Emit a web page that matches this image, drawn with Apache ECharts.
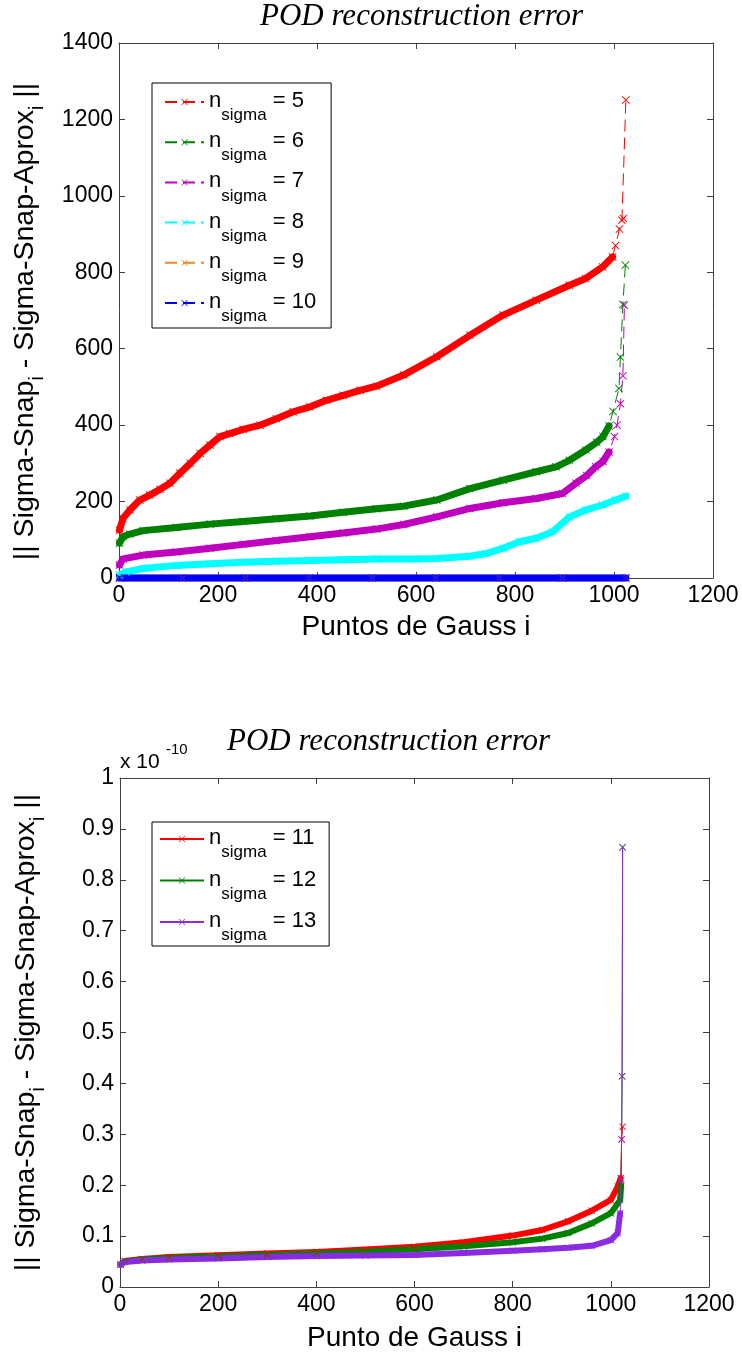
<!DOCTYPE html>
<html>
<head>
<meta charset="utf-8">
<title>POD reconstruction error</title>
<script src="https://cdn.jsdelivr.net/npm/echarts@6.0.0/dist/echarts.min.js"></script>
<style>
  html, body { margin: 0; padding: 0; background: #fff; }
  #chart { width: 742px; height: 1353px; }
</style>
</head>
<body>
<div id="chart"></div>
<script>
// top plot, n_sigma = 5..10
const x5 = [1, 8, 22, 42, 62, 83, 103, 123, 144, 164, 184, 204, 224, 251, 285, 318, 352, 386, 419, 453, 487, 520, 575, 642, 709, 776, 843, 910, 943, 977, 997, 1003, 1011, 1016, 1019, 1024];
const y5 = [125, 156, 178, 204, 217, 232, 248, 274, 300, 326, 348, 370, 378, 389, 400, 417, 435, 448, 465, 478, 491, 502, 531, 579, 635, 688, 727, 766, 784, 814, 840, 870, 913, 936, 941, 1251];
const x6 = [1, 8, 22, 49, 116, 184, 251, 318, 386, 453, 520, 575, 642, 709, 776, 843, 883, 910, 943, 965, 978, 990, 998, 1010, 1013, 1018, 1023];
const y6 = [91, 108, 115, 124, 132, 141, 148, 155, 162, 172, 181, 188, 204, 234, 256, 278, 291, 308, 335, 355, 370, 398, 436, 496, 578, 716, 819];
const x7 = [1, 8, 49, 116, 184, 251, 318, 386, 453, 520, 575, 642, 709, 776, 843, 896, 923, 945, 963, 978, 990, 1001, 1006, 1013, 1018, 1021];
const y7 = [34, 50, 60, 68, 78, 88, 98, 108, 118, 128, 140, 160, 182, 197, 208, 221, 248, 268, 291, 305, 330, 370, 400, 456, 529, 714];
const x8 = [1, 14, 49, 116, 184, 251, 318, 386, 453, 520, 600, 642, 709, 742, 776, 809, 843, 876, 910, 943, 977, 1003, 1024];
const y8 = [8, 16, 25, 33, 37, 41, 44, 46, 48, 50, 50, 51, 57, 64, 78, 95, 104, 121, 160, 178, 191, 204, 214];
const x9 = [1, 128, 256, 384, 512, 640, 768, 896, 1024];
const y9 = [0, 0, 0, 0, 0, 0, 0, 0, 0];
const x10 = [1, 128, 256, 384, 512, 640, 768, 896, 1024];
const y10 = [0, 0, 0, 0, 0, 0, 0, 0, 0];

// bottom plot, n_sigma = 11..13, in units of 1e-10
const x11 = [1, 10, 45, 100, 200, 300, 400, 500, 600, 700, 800, 860, 913, 961, 1000, 1014, 1020, 1022, 1024];
const y11 = [0.044, 0.051, 0.055, 0.059, 0.0626, 0.066, 0.069, 0.0735, 0.079, 0.088, 0.101, 0.112, 0.129, 0.150, 0.171, 0.197, 0.214, 0.29, 0.315];
const x12 = [1, 10, 45, 100, 200, 300, 400, 500, 600, 700, 800, 860, 913, 961, 1000, 1019, 1021, 1023, 1024];
const y12 = [0.044, 0.050, 0.054, 0.057, 0.060, 0.063, 0.066, 0.0695, 0.074, 0.080, 0.088, 0.095, 0.106, 0.125, 0.145, 0.171, 0.20, 0.414, 0.864];
const x13 = [1, 10, 45, 100, 200, 300, 400, 500, 600, 700, 800, 860, 913, 961, 1000, 1014, 1019, 1021, 1022, 1023, 1024];
const y13 = [0.044, 0.049, 0.052, 0.054, 0.056, 0.059, 0.061, 0.062, 0.063, 0.067, 0.071, 0.074, 0.077, 0.081, 0.092, 0.106, 0.145, 0.21, 0.29, 0.414, 0.864];

const xTicks = { min: 0, max: 1200, interval: 200 };
const yTicksTop = { min: 0, max: 1400, interval: 200 };
const yTicksBottom = { min: 0, max: 1, interval: 0.1 };

const SANS = 'Liberation Sans, Arial, sans-serif';
const SERIF = 'Liberation Serif, Times New Roman, serif';
const AXIS_COLOR = '#404040';
const CROSS = 'path://M0,0.8L0.8,0L5,4.2L9.2,0L10,0.8L5.8,5L10,9.2L9.2,10L5,5.8L0.8,10L0,9.2L4.2,5Z';

// name, xs, ys, colour, how many leading points form the dense band
const topSeries = [
  ['n_sigma = 5', x5, y5, '#ff0000', 31],
  ['n_sigma = 6', x6, y6, '#008000', 22],
  ['n_sigma = 7', x7, y7, '#bf00bf', 21],
  ['n_sigma = 8', x8, y8, '#00ffff', 23],
  ['n_sigma = 9', x9, y9, '#e8892c', 9],
  ['n_sigma = 10', x10, y10, '#0000ff', 9]
];
const bottomSeries = [
  ['n_sigma = 11', x11, y11, '#ff0000', 17],
  ['n_sigma = 12', x12, y12, '#008000', 17],
  ['n_sigma = 13', x13, y13, '#8a2be2', 17]
];

const chart = echarts.init(document.getElementById('chart'), null, { renderer: 'canvas' });

function xAxisPair(grid) {
  const base = {
    type: 'value', gridIndex: grid, ...xTicks,
    axisLine: { show: true, onZero: false, lineStyle: { color: AXIS_COLOR, width: 1 } },
    axisTick: { show: true, inside: true, length: 6, lineStyle: { color: AXIS_COLOR } },
    splitLine: { show: false }
  };
  return [
    {
      ...base, position: 'bottom',
      axisLabel: { color: '#000', fontFamily: SANS, fontSize: 23, margin: 6, formatter: v => String(v) },
      name: grid === 0 ? 'Puntos de Gauss i' : 'Punto de Gauss i',
      nameLocation: 'middle', nameGap: grid === 0 ? 35 : 37,
      nameTextStyle: { color: '#000', fontFamily: SANS, fontSize: 28 }
    },
    { ...base, position: 'top', axisLabel: { show: false } }
  ];
}

const yName = '{m||| Sigma-Snap}{s|i}{m| - Sigma-Snap-Aprox}{s|i}{m| ||}';
function yNameStyle(pad) {
  return {
    color: '#000', fontFamily: SANS, fontSize: 28.5, padding: pad,
    rich: {
      m: { color: '#000', fontFamily: SANS, fontSize: 28.5, lineHeight: 30, verticalAlign: 'top' },
      s: { color: '#000', fontFamily: SANS, fontSize: 20, lineHeight: 18, padding: [16, 0, 0, 0], verticalAlign: 'top' }
    }
  };
}

function yAxisPair(grid, ticks, fmt, pad) {
  const base = {
    type: 'value', gridIndex: grid, ...ticks,
    axisLine: { show: true, onZero: false, lineStyle: { color: AXIS_COLOR, width: 1 } },
    axisTick: { show: true, inside: true, length: 6, lineStyle: { color: AXIS_COLOR } },
    splitLine: { show: false }
  };
  return [
    {
      ...base, position: 'left',
      axisLabel: { color: '#000', fontFamily: SANS, fontSize: 23, margin: 6, formatter: fmt },
      name: yName, nameLocation: 'middle', nameGap: 78,
      nameTextStyle: yNameStyle(pad)
    },
    { ...base, position: 'right', axisLabel: { show: false } }
  ];
}

function buildSeries(list, axisIdx, dash, bandWidth, markSize) {
  const out = [];
  list.forEach(([name, xs, ys, color, dense]) => {
    const pts = xs.map((x, i) => [x, ys[i]]);
    out.push({
      type: 'line', name: name + ' band', xAxisIndex: axisIdx, yAxisIndex: axisIdx,
      data: pts.slice(0, dense), symbol: 'none', clip: false, silent: true,
      lineStyle: { color, width: bandWidth, cap: 'round', join: 'round' },
      emphasis: { disabled: true }
    });
    out.push({
      type: 'line', name, xAxisIndex: axisIdx, yAxisIndex: axisIdx,
      data: pts, symbol: CROSS, symbolSize: markSize, clip: false, silent: true,
      itemStyle: { color }, lineStyle: { color, width: 1, type: dash },
      emphasis: { disabled: true }
    });
  });
  return out;
}

const legendRich = {
  m: { color: '#000', fontFamily: SANS, fontSize: 22, lineHeight: 24, verticalAlign: 'top' },
  s: { color: '#000', fontFamily: SANS, fontSize: 17, lineHeight: 14, padding: [17, 0, 0, 0], verticalAlign: 'top' }
};
const legendFmt = n => '{m|n}{s|sigma}{m|' + n.slice(7) + '}';

const yAxes = [
  ...yAxisPair(0, yTicksTop, v => String(v), [0, 22, 0, 0]),
  ...yAxisPair(1, yTicksBottom, v => (v === 0 || v === 1) ? String(v) : v.toFixed(1), 0)
];

chart.setOption({
  animation: false,
  backgroundColor: '#fff',
  grid: [
    { left: 119, top: 43, width: 594, height: 535 },
    { left: 120, top: 778, width: 589, height: 509 }
  ],
  xAxis: [...xAxisPair(0), ...xAxisPair(1)],
  yAxis: yAxes,
  legend: [
    {
      data: topSeries.map(s => s[0]), orient: 'vertical', left: 152, top: 83,
      padding: [7, 15, 3, 12], itemGap: 6.2, itemWidth: 39, itemHeight: 8,
      borderColor: '#000', borderWidth: 1, backgroundColor: '#fff',
      selectedMode: false, formatter: legendFmt, textStyle: { rich: legendRich }
    },
    {
      data: bottomSeries.map(s => s[0]), orient: 'vertical', left: 152, top: 822,
      padding: [5, 13, 2, 7], itemGap: 7.5, itemWidth: 44, itemHeight: 8,
      borderColor: '#000', borderWidth: 1, backgroundColor: '#fff',
      selectedMode: false, formatter: legendFmt, textStyle: { rich: legendRich }
    }
  ],
  graphic: [
    { type: 'text', left: 260, top: 1, style: { text: 'POD reconstruction error', font: 'italic 31px ' + SERIF, fill: '#000' } },
    { type: 'text', left: 227, top: 726, style: { text: 'POD reconstruction error', font: 'italic 31px ' + SERIF, fill: '#000' } },
    { type: 'text', left: 120, top: 752, style: { text: 'x 10', font: '21px ' + SANS, fill: '#000' } },
    { type: 'text', left: 166, top: 742, style: { text: '-10', font: '15px ' + SANS, fill: '#000' } }
  ],
  series: [
    ...buildSeries(topSeries, 0, [12, 6], 7, 8),
    ...buildSeries(bottomSeries, 2, 'solid', 6, 7)
  ]
});
</script>
</body>
</html>
